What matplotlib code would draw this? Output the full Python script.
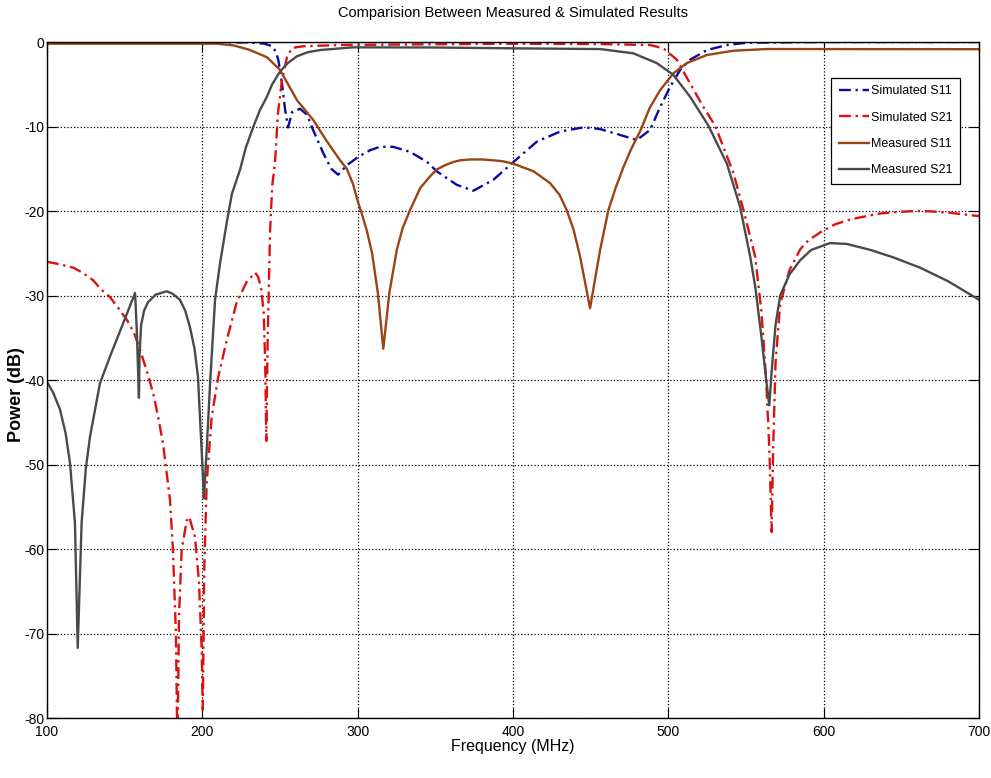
import matplotlib
matplotlib.use('Agg')
import matplotlib.pyplot as plt
import numpy as np

plt.rcParams['font.family'] = ['Liberation Sans', 'DejaVu Sans']
plt.rcParams['axes.unicode_minus'] = False

# Simulated S11 (MHz, dB)
sim_s11_f = [100, 230, 240, 245, 247.5, 249, 251.3, 253.3, 255.2, 257.8, 262.9, 267.4,
             271.3, 278, 283, 287.4, 293, 300.3, 308, 314.4, 322.8, 333.7, 340.2, 345.3,
             350.9, 363.8, 374.5, 387.4, 400.3, 415.3, 430.3, 445.3, 456.1, 469, 479.7,
             488.3, 494.7, 501.2, 507.6, 514, 524.8, 537.7, 550.5, 600, 700]
sim_s11_db = [0, -0.05, -0.2, -0.5, -1.2, -2.2, -4.9, -8, -10.1, -8.3, -7.9, -8.6,
              -10.4, -13.2, -15, -15.7, -14.6, -13.6, -12.8, -12.4, -12.4, -13, -13.7, -14.3,
              -15.3, -16.9, -17.6, -16.3, -14.2, -11.8, -10.6, -10.1, -10.3, -11, -11.6,
              -10.4, -7.7, -5.3, -3.3, -2.1, -0.95, -0.36, -0.08, 0, 0]

# Simulated S21
sim_s21_f = [100, 108, 116.9, 123, 129.7, 135, 140.6, 146, 151.5, 156, 159.9, 164, 168.3,
             171.5, 174.7, 179.2, 181.1, 183, 184, 185, 186.7, 190, 191.6, 195.3, 197.9,
             199.6, 200.3, 201.3, 202.8, 206, 210.3, 215.7, 222, 228.5, 234, 236, 238,
             239.5, 240.5, 241.2, 242, 243.6, 245, 246.8, 248.7, 251.3, 254.5, 257.8, 265,
             290, 400, 456, 488.3, 496.9, 505.5, 514, 522.6, 530.1, 541.9, 548.4, 555.9,
             560, 563, 565, 566.5, 567.5, 569, 572, 578, 585, 590, 598, 607, 617, 625,
             636, 648, 660, 670, 681, 690, 700]
sim_s21_db = [-26, -26.3, -26.7, -27.3, -28.2, -29.3, -30.2, -31.5, -32.9, -34.4, -36.4,
              -38.8, -41.5, -44.3, -47.5, -54.2, -60.1, -70, -84, -68, -60.1, -56.6, -56.2,
              -58.6, -64, -72, -79, -62, -52.2, -44.4, -39.6, -35.3, -30.9, -28.4, -27.3,
              -27.8, -29.3, -32, -38, -47.2, -36, -22.5, -17, -14.3, -8.4, -4.5, -1.8, -0.7,
              -0.5, -0.35, -0.2, -0.24, -0.36, -0.75, -2.1, -4.9, -7.7, -9.9, -15.5, -19.9,
              -25.4, -32, -40, -48, -58, -48, -38, -31, -27, -24.5, -23.5, -22.5, -21.6, -21,
              -20.7, -20.3, -20.1, -20, -20.05, -20.2, -20.4, -20.6]

# Measured S11
meas_s11_f = [100, 210, 220, 230, 241.6, 250, 261, 271.3, 280, 288.7, 293, 297, 300, 303,
              306, 309.3, 313, 316.5, 320.4, 325.2, 329, 333.7, 340.2, 346.6, 350.9, 356,
              361.6, 366, 372.4, 380, 387.4, 393, 400.3, 413.2, 423.9, 430, 434.6, 439,
              443.2, 449.6, 456.1, 461.4, 466, 471.1, 476, 482, 488, 494.7, 503.3, 511.9,
              524.8, 541.9, 563.4, 700]
meas_s11_db = [-0.2, -0.2, -0.4, -0.9, -1.8, -3.3, -6.9, -9.2, -11.7, -14, -15, -16.8, -18.8,
               -20.5, -22.4, -25, -29.7, -36.3, -29.7, -24.6, -22, -19.9, -17.3, -15.9, -15.1,
               -14.6, -14.2, -14, -13.9, -13.9, -14, -14.1, -14.4, -15.3, -16.7, -18.1, -19.9,
               -22.2, -25.4, -31.5, -24.6, -19.9, -17.3, -14.8, -12.7, -10.5, -7.8, -5.7, -3.7,
               -2.5, -1.54, -1.03, -0.83, -0.85]

# Measured S21
meas_s21_f = [100, 104, 108.4, 112, 114.8, 118, 119.8, 122.3, 125, 127.7, 134.1, 140.6, 149,
              156.7, 157.8, 159.2, 159.6, 160.6, 162.5, 165, 170, 177, 181, 185.6, 189, 192,
              195, 197.2, 200.5, 201, 202.8, 205, 208.2, 211.4, 215.7, 219, 224.3, 228,
              232.9, 237, 241.5, 245, 250, 255, 260.8, 268, 275.8, 297, 350, 400, 456,
              477.5, 492.6, 503.3, 514.1, 525.8, 537.7, 546.2, 552.7, 556, 560, 563, 565,
              566.5, 569, 572, 578, 585, 592, 604, 615, 630, 645, 662, 680, 700]
meas_s21_db = [-40.2, -41.5, -43.5, -46.3, -49.8, -56.9, -71.7, -56.9, -50.5, -46.7, -40.4,
               -37.2, -33.3, -29.7, -34, -42.1, -37, -33.5, -31.8, -30.8, -29.9, -29.5, -29.8,
               -30.5, -31.8, -33.7, -36.3, -39.6, -51.8, -54, -48.3, -40.4, -30.5, -26.2,
               -21.4, -18, -15.1, -12.5, -10, -8.1, -6.5, -5, -3.5, -2.5, -1.7, -1.2, -0.95,
               -0.63, -0.65, -0.75, -0.83, -1.34, -2.5, -3.9, -6.5, -9.9, -14.4, -19.5, -25.4,
               -29, -35, -40, -43, -39, -33.5, -30, -27.5, -25.8, -24.6, -23.8, -23.9, -24.6,
               -25.5, -26.7, -28.3, -30.5]

fig = plt.figure(figsize=(9.91, 7.78), dpi=100)
ax = fig.add_axes([0.0474, 0.0771, 0.9405, 0.8689])

dashdot = (0, (5, 2, 1, 2))
ax.plot(sim_s11_f, sim_s11_db, color='#0a0aa8', lw=1.7, ls=dashdot, label='Simulated S11')
ax.plot(sim_s21_f, sim_s21_db, color='#dd1111', lw=1.7, ls=dashdot, label='Simulated S21')
ax.plot(meas_s11_f, meas_s11_db, color='#9a4414', lw=1.7, label='Measured S11')
ax.plot(meas_s21_f, meas_s21_db, color='#4a4a4a', lw=1.7, label='Measured S21')

ax.set_xlim(100, 700)
ax.set_ylim(-80, 0)
ax.set_xticks(np.arange(100, 701, 100))
ax.set_yticks(np.arange(-80, 1, 10))
ax.grid(True, color='black', ls=':', lw=0.9)
ax.tick_params(direction='in', length=7, top=True, right=True, labelsize=10)
ax.tick_params(axis='x', pad=5)
ax.tick_params(axis='y', pad=2)
for s in ax.spines.values():
    s.set_linewidth(1.0)

ax.set_title('Comparision Between Measured & Simulated Results', fontsize=10.5, pad=18)
ax.set_xlabel('Frequency (MHz)', fontsize=11.5, labelpad=0)
ax.set_ylabel('Power (dB)', fontsize=13, fontweight='bold')
ax.yaxis.set_label_coords(-0.024, 0.478)

leg = ax.legend(loc='upper right', bbox_to_anchor=(0.98, 0.947), fontsize=9,
                handlelength=2.4, fancybox=False, framealpha=1, edgecolor='black',
                borderpad=0.6, labelspacing=1.15, handletextpad=0.2, borderaxespad=0)
leg.get_frame().set_linewidth(0.9)

plt.savefig('out.png', dpi=100)
